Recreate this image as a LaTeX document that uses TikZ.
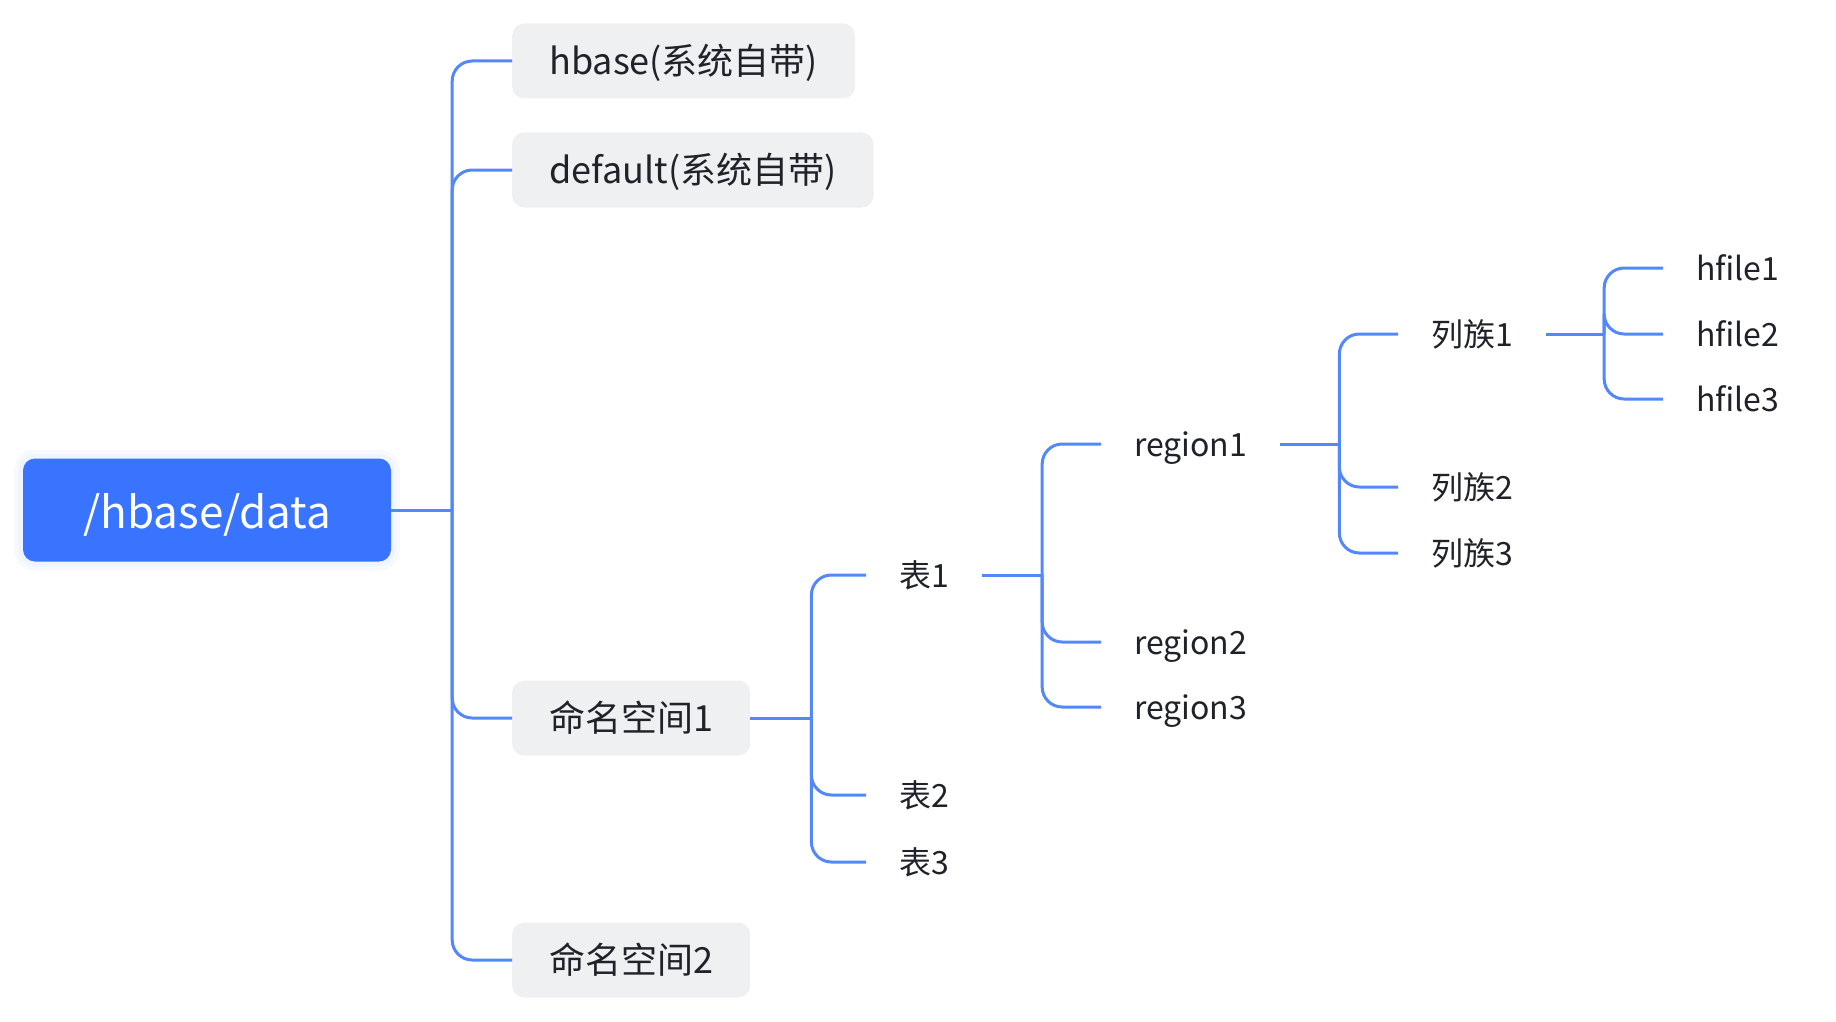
\documentclass[tikz,border=0pt]{standalone}
\usepackage{fontspec}
\setmainfont{Noto Sans CJK SC}
\usepackage{xcolor}
\usepackage{tikz}
\usetikzlibrary{positioning,calc}
\definecolor{rootblue}{RGB}{56,116,255}
\definecolor{branchblue}{RGB}{82,136,250}
\definecolor{boxgray}{RGB}{239,240,242}
\definecolor{inkdark}{RGB}{31,35,41}

\begin{document}
\begin{tikzpicture}[x=1pt, y=-1pt, rootnode/.style={fill=rootblue, text=white, rounded corners=12pt, minimum width=368pt, minimum height=103pt, font=\fontsize{44}{48}\selectfont, text height=45pt, text depth=9pt, preaction={draw=rootblue!4, line width=18pt}, preaction={draw=rootblue!8, line width=9pt}}, topic/.style={fill=boxgray, text=inkdark, rounded corners=12pt, inner xsep=37pt, minimum height=75pt, anchor=west, font=\fontsize{36}{40}\selectfont, text height=31.7pt, text depth=4.3pt}, leaf/.style={text=inkdark, inner xsep=33pt, anchor=west, font=\fontsize{32}{36}\selectfont, text height=28.2pt, text depth=3.8pt}, branch/.style={draw=branchblue, line width=3pt, rounded corners=20pt}]
\useasboundingbox (0,0) rectangle (1836,1022);
\node[rootnode] (root) at (207,510) {/hbase/data};
\node[topic] (sys) at (512,61) {hbase(系统自带)};
\node[topic] (dflt) at (512,170) {default(系统自带)};
\node[topic] (ns1) at (512,718) {命名空间1};
\node[topic] (ns2) at (512,960) {命名空间2};
\node[leaf] (t1) at (866,575) {表1};
\node[leaf] (t2) at (866,795) {表2};
\node[leaf] (t3) at (866,862) {表3};
\node[leaf] (r1) at (1101,444) {region1};
\node[leaf] (r2) at (1101,642) {region2};
\node[leaf] (r3) at (1101,707) {region3};
\node[leaf] (cf1) at (1398,334) {列族1};
\node[leaf] (cf2) at (1398,487) {列族2};
\node[leaf] (cf3) at (1398,553) {列族3};
\node[leaf] (hf1) at (1663,268) {hfile1};
\node[leaf] (hf2) at (1663,334) {hfile2};
\node[leaf] (hf3) at (1663,399) {hfile3};
\draw[branch] (root.east) -- ++(61,0) coordinate (j0);
\foreach \kid in {sys,dflt,ns1,ns2} \draw[branch] (j0) |- (\kid.west);
\draw[branch] (ns1.east) -- ++(61,0) coordinate (j1);
\foreach \kid in {t1,t2,t3} \draw[branch] (j1) |- (\kid.west);
\draw[branch] (t1.east) -- ++(60,0) coordinate (j2);
\foreach \kid in {r1,r2,r3} \draw[branch] (j2) |- (\kid.west);
\draw[branch] (r1.east) -- ++(59,0) coordinate (j3);
\foreach \kid in {cf1,cf2,cf3} \draw[branch] (j3) |- (\kid.west);
\draw[branch] (cf1.east) -- ++(58,0) coordinate (j4);
\foreach \kid in {hf1,hf2,hf3} \draw[branch] (j4) |- (\kid.west);
\end{tikzpicture}
\end{document}
